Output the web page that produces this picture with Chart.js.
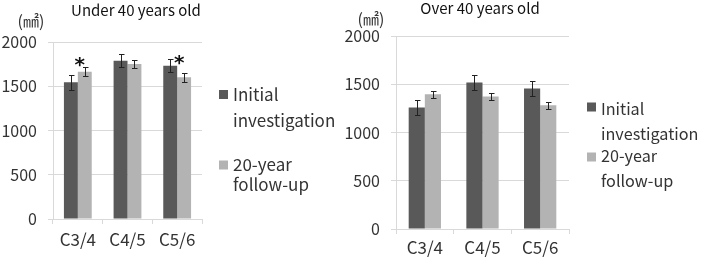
<!DOCTYPE html>
<html>
<head>
<meta charset="utf-8">
<script src="https://cdn.jsdelivr.net/npm/chart.js@4"></script>
<style>
  body { margin:0; background:#fff; }
  .panel { position:absolute; top:0; height:259px; }
</style>
</head>
<body>
<div class="panel" style="left:0;width:350px"><canvas id="c-under" width="350" height="259"></canvas></div>
<div class="panel" style="left:320px;width:381px"><canvas id="c-over" width="381" height="259"></canvas></div>
<script>
// datos
const categories   = ['C3/4', 'C4/5', 'C5/6'];
const seriesLabels = [['Initial', 'investigation'], ['20-year', 'follow-up']];
const yTicks       = [0, 500, 1000, 1500, 2000];

const underInitial    = [1544, 1789, 1733];
const underInitialErr = [85, 75, 75];
const underFollow     = [1665, 1752, 1601];
const underFollowErr  = [47, 47, 49];
const underSigAt      = [1770, null, 1800];   // asterisco (nivel en mm²)

const overInitial     = [1258, 1517, 1455];
const overInitialErr  = [76, 78, 79];
const overFollow      = [1396, 1372, 1282];
const overFollowErr   = [36, 35, 38];
const overSigAt       = [null, null, null];

const COLORS = ['#595959', '#b3b3b3'];
const FONT   = "'Noto Sans CJK JP', 'Noto Sans', sans-serif";
const TXT    = '#333333';
const GRID   = '#d9d9d9';

// barras de error + asteriscos
const errorBars = {
  id: 'errorBars',
  afterDatasetsDraw(chart) {
    const {ctx} = chart, y = chart.scales.y;
    ctx.save();
    ctx.strokeStyle = '#222';
    ctx.lineWidth = 1;
    chart.data.datasets.forEach((ds, i) => {
      chart.getDatasetMeta(i).data.forEach((bar, j) => {
        const hi = Math.round(y.getPixelForValue(ds.data[j] + ds.errors[j])) + .5;
        const lo = Math.round(y.getPixelForValue(ds.data[j] - ds.errors[j])) + .5;
        const x  = Math.round(bar.x) + .5;
        ctx.beginPath();
        ctx.moveTo(x, hi); ctx.lineTo(x, lo);
        ctx.moveTo(x - 2.5, hi); ctx.lineTo(x + 3, hi);
        ctx.moveTo(x - 2.5, lo); ctx.lineTo(x + 3, lo);
        ctx.stroke();
      });
    });
    const sig = chart.options.plugins.deco.sig;
    ctx.fillStyle = '#111';
    ctx.font = 'bold 20px DejaVu Sans';
    ctx.textAlign = 'center';
    ctx.textBaseline = 'alphabetic';
    const m = ctx.measureText('*');
    const off = (m.actualBoundingBoxAscent - m.actualBoundingBoxDescent) / 2;
    const light = chart.getDatasetMeta(1).data;
    sig.forEach((v, j) => {
      if (v == null) return;
      ctx.fillText('*', light[j].x - 5, y.getPixelForValue(v) + off);
    });
    ctx.restore();
  }
};

// título, unidad y leyenda (texto de varias líneas)
const deco = {
  id: 'deco',
  afterDraw(chart, args, o) {
    const {ctx} = chart;
    ctx.save();
    ctx.textAlign = 'center';
    ctx.textBaseline = 'middle';
    ctx.fillStyle = '#111';
    ctx.font = `15px ${FONT}`;
    ctx.fillText(o.title, o.titleX, o.titleY);
    ctx.fillStyle = TXT;
    ctx.font = `16px ${FONT}`;
    ctx.fillText('(㎟)', o.unitX, o.unitY);

    ctx.textAlign = 'left';
    ctx.textBaseline = 'alphabetic';
    ctx.font = `${o.legSize}px ${FONT}`;
    o.legend.forEach((it, i) => {
      ctx.fillStyle = COLORS[i];
      ctx.fillRect(o.legX, it.box - 4.5, 9, 9);
      ctx.fillStyle = TXT;
      seriesLabels[i].forEach((t, k) => ctx.fillText(t, o.legX + 14, it.lines[k]));
    });
    ctx.restore();
  }
};

function crearGrafico(id, d) {
  return new Chart(document.getElementById(id), {
    type: 'bar',
    data: {
      labels: categories,
      datasets: [
        {label: seriesLabels[0].join(' '), data: d.initial, errors: d.initialErr, backgroundColor: COLORS[0]},
        {label: seriesLabels[1].join(' '), data: d.follow,  errors: d.followErr,  backgroundColor: COLORS[1]}
      ]
    },
    options: {
      responsive: false,
      animation: false,
      events: [],
      categoryPercentage: 0.56,
      barPercentage: 1,
      layout: {padding: d.pad},
      plugins: {
        legend: {display: false},
        tooltip: {enabled: false},
        deco: d.deco
      },
      scales: {
        x: {
          grid: {display: true, drawOnChartArea: false, offset: true, color: GRID, tickLength: 5},
          border: {display: true, color: GRID},
          ticks: {color: TXT, font: {family: FONT, size: 17}, padding: d.xPad},
          afterFit: s => { s.height = d.xH; }
        },
        y: {
          min: 0, max: 2000,
          afterBuildTicks: s => { s.ticks = yTicks.map(v => ({value: v})); },
          grid: {color: GRID, tickLength: 5},
          border: {display: true, color: GRID},
          ticks: {color: TXT, font: {family: FONT, size: 16}, padding: d.yPad, callback: v => String(v)},
          afterFit: s => { s.width = d.yW; }
        }
      }
    },
    plugins: [errorBars, deco]
  });
}

crearGrafico('c-under', {
  initial: underInitial, initialErr: underInitialErr,
  follow: underFollow, followErr: underFollowErr,
  pad: {left: 0, right: 148, top: 42, bottom: 0},
  yW: 53, xH: 40, xPad: 5, yPad: 11,
  deco: {
    title: 'Under 40 years old', titleX: 136, titleY: 10,
    unitX: 31, unitY: 21, sig: underSigAt, legX: 219, legSize: 17,
    legend: [{box: 94.5, lines: [101, 127]}, {box: 165, lines: [171, 191]}]
  }
});

// panel derecho desplazado 30px a la izquierda para que quepan las etiquetas
crearGrafico('c-over', {
  initial: overInitial, initialErr: overInitialErr,
  follow: overFollow, followErr: overFollowErr,
  pad: {left: 0, right: 132, top: 36, bottom: 0},
  yW: 76, xH: 30, xPad: 3, yPad: 11,
  deco: {
    title: 'Over 40 years old', titleX: 160, titleY: 8,
    unitX: 51, unitY: 19, sig: overSigAt, legX: 267, legSize: 16.2,
    legend: [{box: 107, lines: [115, 140]}, {box: 157, lines: [162, 187]}]
  }
});
</script>
</body>
</html>
